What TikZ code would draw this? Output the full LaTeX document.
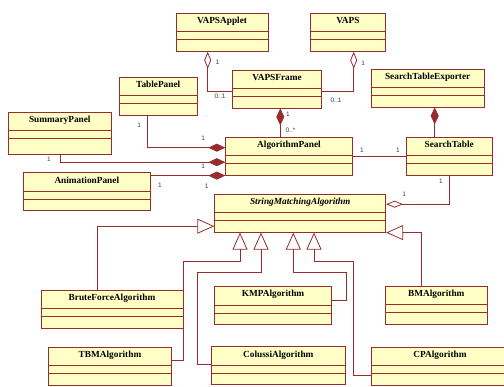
\documentclass[tikz,border=0pt]{standalone}
\usepackage{fontspec}
\setmainfont{Liberation Serif}
\newfontfamily\multfont{Liberation Sans}
\usetikzlibrary{arrows.meta}

\definecolor{umlline}{RGB}{150,45,45}
\definecolor{umlfill}{RGB}{255,255,198}
\definecolor{multtext}{RGB}{60,60,85}

\begin{document}
\begin{tikzpicture}[x=1pt,y=-1pt,
	cls/.style={draw=umlline, fill=umlfill, line width=0.8pt, inner xsep=0pt, inner ysep=0pt,
		text height=10.5pt, text depth=27.5pt, font=\fontsize{9.3}{10}\selectfont\bfseries},
	mult/.style={inner sep=0pt, text=multtext, font=\multfont\fontsize{6.5}{7}\selectfont},
	assoc/.style={draw=umlline, line width=0.8pt},
	agg/.style={assoc, {Diamond[fill=white, length=17pt, width=7pt]}-},
	aggend/.style={assoc, -{Diamond[fill=white, length=17pt, width=7pt]}},
	comp/.style={assoc, {Diamond[length=17pt, width=8pt]}-},
	compend/.style={assoc, -{Diamond[length=17pt, width=8pt]}},
	gen/.style={assoc, -{Triangle[fill=white, length=17pt, width=15pt]}}]
	\useasboundingbox (0,0) rectangle (504,387);
	\fill[white] (0,0) rectangle (504,387);
	
	\node[cls, minimum width=92pt] (vapsapplet) at (222,32.3) {VAPSApplet};
	\node[cls, minimum width=75.4pt] (vaps) at (348,32.3) {VAPS};
	\node[cls, minimum width=89.4pt] (vapsframe) at (277,89) {VAPSFrame};
	\node[cls, minimum width=113.3pt] (exporter) at (427.7,88) {SearchTableExporter};
	\node[cls, minimum width=78.3pt] (tablepanel) at (158.2,96) {TablePanel};
	\node[cls, minimum width=102.3pt, text depth=31.5pt] (summarypanel) at (59.8,133.3) {SummaryPanel};
	\node[cls, minimum width=126.6pt] (algopanel) at (289,156.2) {AlgorithmPanel};
	\node[cls, minimum width=85.7pt] (searchtable) at (449.2,156.2) {SearchTable};
	\node[cls, minimum width=127pt] (animpanel) at (86.8,191.7) {AnimationPanel};
	\node[cls, minimum width=171pt] (smalgo) at (300.2,213.2) {\itshape StringMatchingAlgorithm};
	
	\node[cls, minimum width=142pt] (bruteforce) at (112,309.3) {BruteForceAlgorithm};
	\node[cls, minimum width=116.6pt] (kmp) at (273,305.5) {KMPAlgorithm};
	\node[cls, minimum width=102pt] (bm) at (436.3,305.3) {BMAlgorithm};
	\node[cls, minimum width=123.4pt] (tbm) at (110,366) {TBMAlgorithm};
	\node[cls, minimum width=134pt] (colussi) at (278.3,365.8) {ColussiAlgorithm};
	\node[cls, minimum width=138pt] (cp) at (440,366) {CPAlgorithm};
	
	\foreach \c in {vapsapplet,vaps,vapsframe,exporter,tablepanel,summarypanel,algopanel,searchtable,
		animpanel,smalgo,bruteforce,kmp,bm,tbm,colussi,cp}
		\draw[assoc] ([yshift=-19pt]\c.north west) -- ([yshift=-19pt]\c.north east)
			([yshift=-27pt]\c.north west) -- ([yshift=-27pt]\c.north east);
	
	\draw[agg] ([xshift=-14.3pt]vapsapplet.south) |- ([yshift=-2pt]vapsframe.west);
	\draw[agg] ([xshift=5.7pt]vaps.south) |- ([yshift=-2pt]vapsframe.east);
	\coordinate (fa) at ([xshift=3.3pt]vapsframe.south);
	\draw[comp] (fa) -- (fa |- algopanel.north);
	\coordinate (ea) at ([xshift=7pt]exporter.south);
	\draw[comp] (ea) -- (ea |- searchtable.north);
	\draw[assoc] (algopanel.east) -- (searchtable.west);
	\draw[compend] ([xshift=-10.9pt]tablepanel.south) |- ([yshift=8.5pt]algopanel.west);
	\draw[compend] ([xshift=0.5pt]summarypanel.south) |- ([yshift=-6pt]algopanel.west);
	\draw[compend] (algopanel.south west -| animpanel.east) -- (algopanel.south west);
	\draw[aggend] ([xshift=0.5pt]searchtable.south) |- ([yshift=9pt]smalgo.east);
	
	\draw[gen] ([xshift=-14.3pt]bruteforce.north) |- ([yshift=-13pt]smalgo.west);
	\draw[gen] ([yshift=5.3pt]tbm.east) -| (183,261.7) -| ([xshift=-60.2pt]smalgo.south);
	\draw[gen] ([yshift=1.5pt]colussi.west) -| (197.3,272.3) -| ([xshift=-39.2pt]smalgo.south);
	\draw[gen] ([yshift=5.5pt]kmp.east) -| (346.7,272.3) -| ([xshift=-6.9pt]smalgo.south);
	\draw[gen] ([yshift=-9.7pt]cp.west) -| (353.7,261.7) -| ([xshift=13.8pt]smalgo.south);
	\draw[gen] ([xshift=-15.3pt]bm.north) |- (smalgo.south east);
	
	\node[mult] (m1) at (217.5,62.5) {1};
	\node[mult] (m2) at (220,96.5) {0..1};
	\node[mult] (m3) at (363.3,63) {1};
	\node[mult] (m4) at (336,100) {0..1};
	\node[mult] (m5) at (288,114.5) {1};
	\node[mult] (m6) at (290.5,130) {0..*};
	\node[mult] (m7) at (362,150) {1};
	\node[mult] (m8) at (398,150) {1};
	\node[mult] (m9) at (139.3,125) {1};
	\node[mult] (m10) at (203.3,138.3) {1};
	\node[mult] (m11) at (49,159.3) {1};
	\node[mult] (m12) at (203.3,166.7) {1};
	\node[mult] (m13) at (160,185) {1};
	\node[mult] (m14) at (206.7,186.7) {1};
	\node[mult] (m15) at (441,181.7) {1};
	\node[mult] (m16) at (404.3,194) {1};
\end{tikzpicture}
\end{document}
